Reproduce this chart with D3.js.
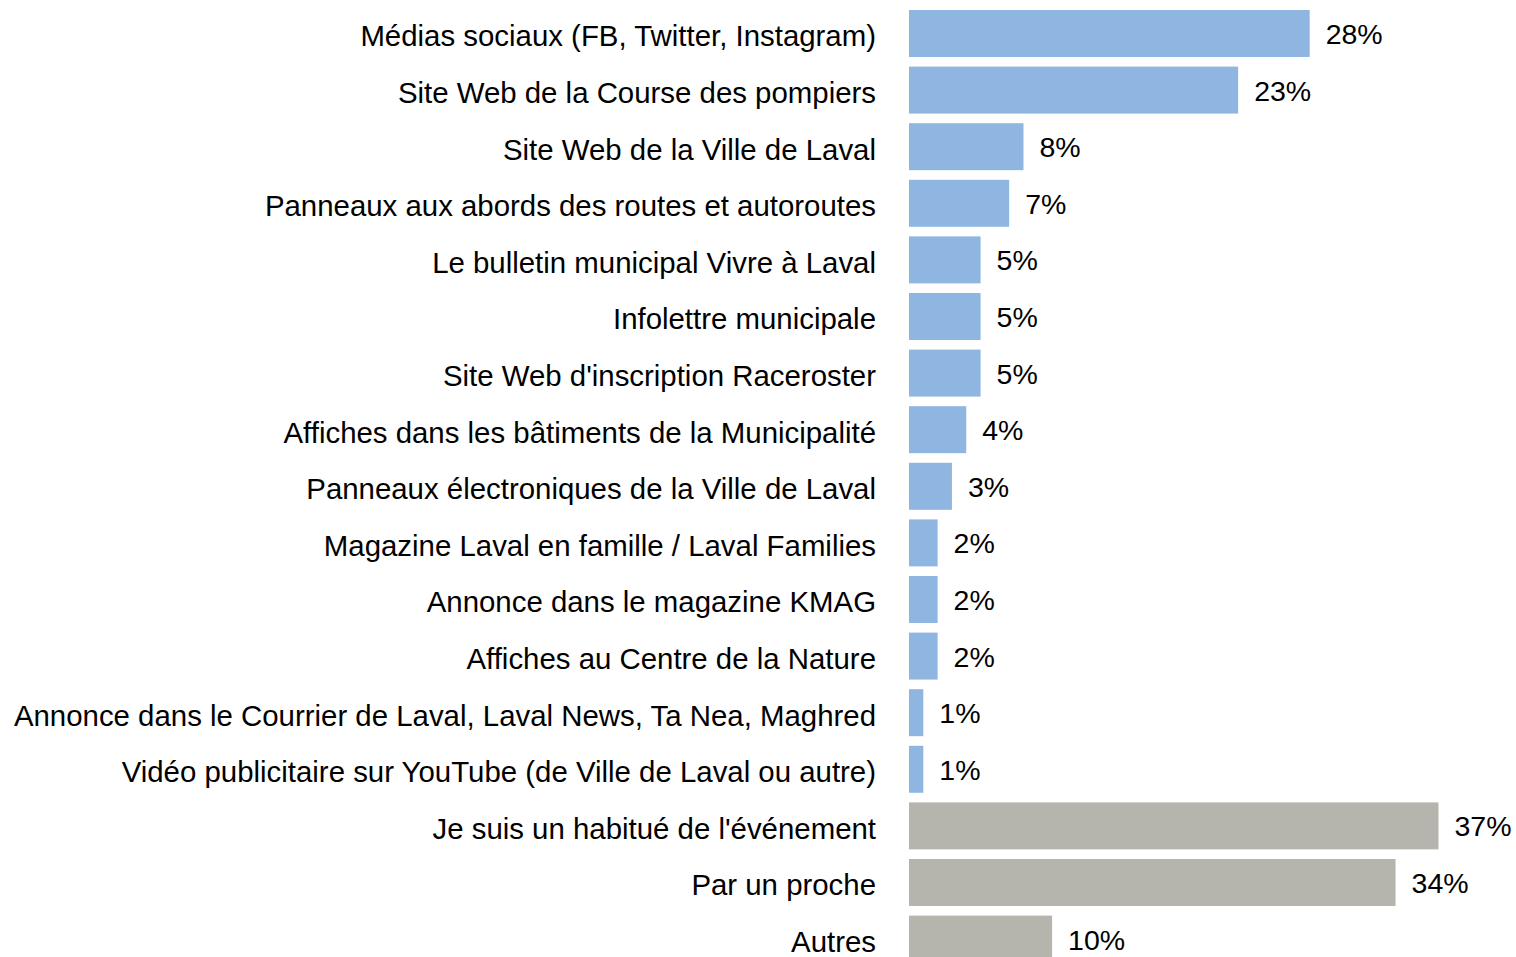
<!DOCTYPE html>
<html>
<head>
<meta charset="utf-8">
<script src="https://cdn.jsdelivr.net/npm/d3@7"></script>
<style>
  body { margin: 0; background: #fff; }
  text { font-family: "Liberation Sans", Arial, sans-serif; fill: #000; }
</style>
</head>
<body>
<svg></svg>
<script>
// categories, top to bottom
let categories = [
  "Médias sociaux (FB, Twitter, Instagram)",
  "Site Web de la Course des pompiers",
  "Site Web de la Ville de Laval",
  "Panneaux aux abords des routes et autoroutes",
  "Le bulletin municipal Vivre à Laval",
  "Infolettre municipale",
  "Site Web d'inscription Raceroster",
  "Affiches dans les bâtiments de la Municipalité",
  "Panneaux électroniques de la Ville de Laval",
  "Magazine Laval en famille / Laval Families",
  "Annonce dans le magazine KMAG",
  "Affiches au Centre de la Nature",
  "Annonce dans le Courrier de Laval, Laval News, Ta Nea, Maghred",
  "Vidéo publicitaire sur YouTube (de Ville de Laval ou autre)",
  "Je suis un habitué de l'événement",
  "Par un proche",
  "Autres"
];
let values = [28, 23, 8, 7, 5, 5, 5, 4, 3, 2, 2, 2, 1, 1, 37, 34, 10];
// "media" = promotional channel, "other" = word of mouth etc.
let groups = ["media", "media", "media", "media", "media", "media", "media",
              "media", "media", "media", "media", "media", "media", "media",
              "other", "other", "other"];

let rows = categories.map((c, i) => ({cat: c, val: values[i], grp: groups[i]}));

let width = 1516, height = 957;
let step = 56.6;
let barLeft = 909;

let svg = d3.select("svg")
            .attr("width", width)
            .attr("height", height);

let yScale = d3.scaleBand()
              .domain(categories)
              .range([10 - step * 0.085, 10 - step * 0.085 + step * categories.length])
              .paddingInner(0.17)
              .paddingOuter(0.085);

let xScale = d3.scaleLinear()
              .domain([0, 37])
              .range([barLeft, barLeft + 37 * 14.31]);

let colour = d3.scaleOrdinal()
              .domain(["media", "other"])
              .range(["#8eb6e1", "#b6b5ad"]);

svg.append("g")
    .selectAll("rect")
    .data(rows)
    .join("rect")
    .attr("x", xScale(0))
    .attr("y", d => yScale(d.cat))
    .attr("width", d => xScale(d.val) - xScale(0))
    .attr("height", yScale.bandwidth())
    .attr("fill", d => colour(d.grp));

// category labels
svg.append("g")
    .selectAll("text")
    .data(rows)
    .join("text")
    .attr("x", 876)
    .attr("y", d => yScale(d.cat) + yScale.bandwidth() / 2 + 13)
    .attr("text-anchor", "end")
    .style("font-size", "29.4px")
    .text(d => d.cat);

// value labels
svg.append("g")
    .selectAll("text")
    .data(rows)
    .join("text")
    .attr("x", d => xScale(d.val) + 16)
    .attr("y", d => yScale(d.cat) + yScale.bandwidth() / 2 + 10.5)
    .style("font-size", "28.5px")
    .text(d => d.val + "%");
</script>
</body>
</html>
